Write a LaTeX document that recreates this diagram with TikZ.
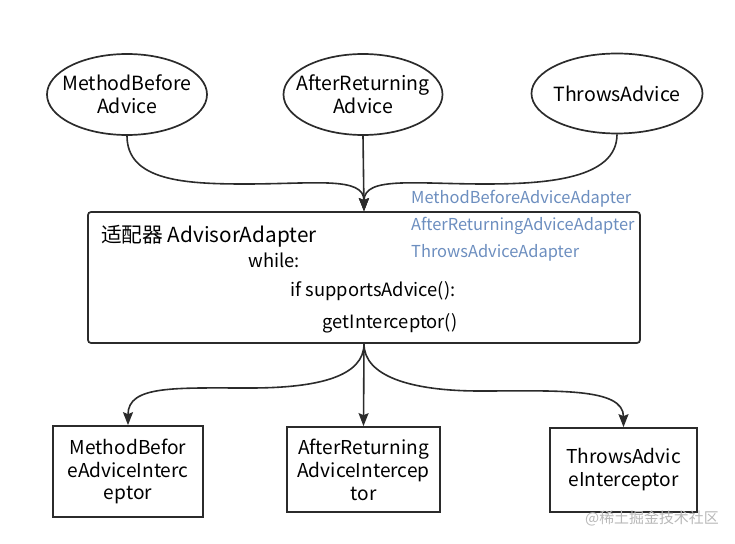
\documentclass[tikz,border=0pt]{standalone}
\usepackage{fontspec}
\setmainfont{Noto Sans CJK SC}
\usetikzlibrary{shapes.geometric,arrows.meta}
\definecolor{ink}{HTML}{2B2B2B}
\definecolor{adapterblue}{HTML}{6C8EBF}
\definecolor{wm}{HTML}{B8B8B8}
\tikzset{
  adv/.style={ellipse,draw=ink,line width=1.7bp,inner sep=0pt},
  advtext/.style={inner sep=0pt,align=center,font=\fontsize{19.6}{23}\selectfont},
  icpt/.style={rectangle,draw=ink,line width=1.7bp,inner sep=0pt,align=center,font=\fontsize{19.2}{23}\selectfont},
  conn/.style={draw=ink,line width=1.6bp,-{Stealth[length=13bp,width=10bp,inset=2bp]}},
  code/.style={inner sep=0pt,font=\fontsize{18.4}{22}\selectfont},
  blue/.style={inner sep=0pt,anchor=west,text=adapterblue,font=\fontsize{16.5}{19}\selectfont},
}
\begin{document}
\begin{tikzpicture}[x=1bp,y=-1bp]
\useasboundingbox (0,0) rectangle (735,544);
% advices
\node[adv,minimum width=160bp,minimum height=81bp] (e1) at (127,94.5) {};
\node[advtext] (e1t) at (e1.center) {MethodBefore\\Advice};
\node[adv,minimum width=159bp,minimum height=81bp] (e2) at (363,94.5) {};
\node[advtext] (e2t) at (e2.center) {AfterReturning\\Advice};
\node[adv,minimum width=171bp,minimum height=80bp] (e3) at (617,93.5) {};
\node[advtext] (e3t) at (e3.center) {ThrowsAdvice};
% adapter box
\node[draw=ink,line width=1.7bp,rounded corners=3bp,minimum width=552bp,minimum height=131bp,inner sep=0pt] (box) at (364,277.5) {};
\node[inner sep=0pt,anchor=west,font=\fontsize{20.8}{24}\selectfont] (title) at (101,236) {适配器 AdvisorAdapter};
\node[code] (wh) at (274,260) {while:};
\node[code] (ifs) at (373,291) {if supportsAdvice():};
\node[code] (gi) at (390,323) {getInterceptor()};
% adapter names
\node[blue] (a1) at (411,199) {MethodBeforeAdviceAdapter};
\node[blue] (a2) at (411,226) {AfterReturningAdviceAdapter};
\node[blue] (a3) at (411,253) {ThrowsAdviceAdapter};
% interceptors
\node[icpt,minimum width=150bp,minimum height=91bp] (b1) at (128,471.5) {MethodBefor\\eAdviceInterc\\eptor};
\node[icpt,minimum width=153bp,minimum height=85bp] (b2) at (363.5,469.5) {AfterReturning\\AdviceIntercep\\tor};
\node[icpt,minimum width=147bp,minimum height=84bp] (b3) at (623.5,470) {ThrowsAdvic\\eInterceptor};
% watermark
\node[inner sep=0pt,anchor=east,text=wm,font=\fontsize{15}{18}\selectfont] (wmk) at (719,518) {@稀土掘金技术社区};
% connectors top
\coordinate (lt) at (245,184);
\coordinate (rt) at (485,184);
\draw[conn] (e1.south) .. controls +(0,45) and +(-60,0) .. (lt) .. controls +(70,0) and +(0,-35) .. (box.north);
\draw[conn] (e2.south) -- (box.north);
\draw[conn] (e3.south) .. controls +(0,45) and +(60,0) .. (rt) .. controls +(-70,0) and +(0,-35) .. (box.north);
% connectors bottom
\coordinate (lb) at (250,388);
\coordinate (rb) at (480,391);
\draw[conn] (box.south) .. controls +(0,32) and +(70,0) .. (lb) .. controls +(-75,0) and +(0,-40) .. (b1.north);
\draw[conn] (box.south) -- (b2.north);
\draw[conn] (box.south) .. controls +(0,32) and +(-70,0) .. (rb) .. controls +(75,0) and +(0,-40) .. (b3.north);
\end{tikzpicture}
\end{document}
